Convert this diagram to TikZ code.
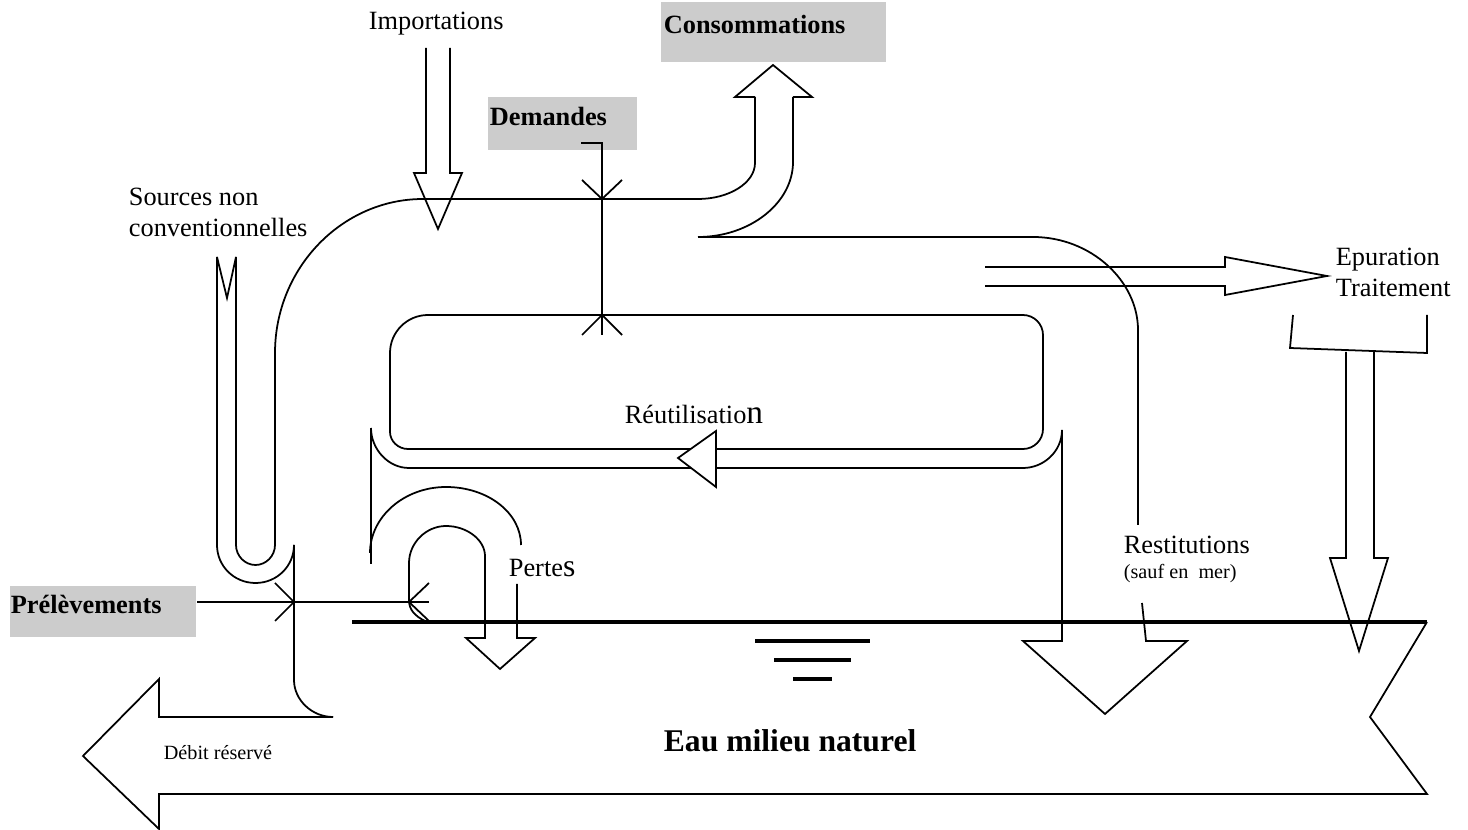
\documentclass[tikz,border=0pt]{standalone}
\usepackage{fontspec}
\setmainfont{Liberation Serif}
\definecolor{grau}{RGB}{204,204,204}

\begin{document}
\begin{tikzpicture}[x=0.02cm,y=-0.02cm,line width=1pt,line join=miter]
	\tikzstyle{txt}=[inner sep=0pt,anchor=west,font=\fontsize{15}{17.6}\selectfont];
	\tikzstyle{fett}=[txt,font=\fontsize{15}{17.6}\selectfont\bfseries];
	\tikzstyle{klein}=[txt,font=\fontsize{11.5}{13}\selectfont];
	\tikzstyle{kasten}=[fill=grau];
	\tikzstyle{niveau}=[line width=2.6pt];
%<--------------------------------------------------------------------------->%

	\useasboundingbox (0,0) rectangle (1468,830);
	%% Grey boxes
	\fill[kasten] (661,2) rectangle (886,62);
	\fill[kasten] (488,97) rectangle (637,150);
	\fill[kasten] (10,586) rectangle (196,637);
	%% River
	\draw (1427,622) -- (1370,717) -- (1427,794) -- (159,794) -- (159,829)
		-- (83,756) -- (159,679) -- (159,717) -- (333,717);
	\draw (294,545) -- (294,680) .. controls (294,700) and (312,717) .. (333,717);
	%% Sources non conventionnelles
	\draw (217,257) -- (227,298) -- (236,257);
	\draw (217,257) -- (217,545) .. controls (217,566) and (234,583) .. (255.5,583)
		.. controls (277,583) and (294,566) .. (294,545);
	\draw (236,257) -- (236,545) .. controls (236,556) and (245,565) .. (255.5,565)
		.. controls (266,565) and (275,556) .. (275,545);
	%% Main pipe
	\draw (275,545) -- (275,353) .. controls (275,268) and (342,199) .. (423,199) -- (698,199)
		.. controls (729,199) and (755,183) .. (755,163) -- (755,97);
	\draw (793,97) -- (793,162) .. controls (793,203) and (750,237) .. (698,237);
	\draw (698,237) -- (1033,237) .. controls (1091,237) and (1138,281) .. (1138,330) -- (1138,525);
	\draw (755,97) -- (735,97) -- (773,65) -- (812,97) -- (793,97);
	\draw (426,48) -- (426,173) -- (414,173) -- (438,229) -- (462,173) -- (450,173) -- (450,48);
	%% Reuse loop
	\draw (390,353) .. controls (390,332) and (407,315) .. (428,315) -- (1023,315)
		.. controls (1034,315) and (1043,324) .. (1043,335) -- (1043,429)
		.. controls (1043,440) and (1034,449) .. (1023,449) -- (408,449)
		.. controls (398,449) and (390,441) .. (390,432) -- cycle;
	\draw (371,428) .. controls (371,449) and (388,468) .. (409,468) -- (1023,468)
		.. controls (1044,468) and (1062,451) .. (1062,430) -- (1062,641) -- (1023,641)
		-- (1105,714) -- (1187,641) -- (1146,641) -- (1142,603);
	\draw (371,428) -- (371,564);
	\draw[fill=white] (716,431) -- (678,458) -- (716,487) -- cycle;
	%% Losses
	\draw (370,553) .. controls (370,517) and (404,487) .. (446,487)
		.. controls (488,487) and (521,513) .. (521,545);
	\draw (425,621) .. controls (415,616) and (409,610) .. (409,600) -- (409,563)
		.. controls (409,543) and (426,526) .. (446,526) .. controls (467,526) and (485,540) .. (485,556)
		-- (485,638) -- (466,638) -- (500,669) -- (535,638) -- (517,638) -- (517,584);
	%% Mark demand and withdrawal
	\draw (581,143) -- (602,143) -- (602,335);
	\draw (582,180) -- (602,199) -- (622,180);
	\draw (582,335) -- (602,315) -- (622,335);
	\draw (197,602) -- (429,602);
	\draw (275,583) -- (294,602) -- (275,621);
	\draw (429,583) -- (409,602) -- (429,621);
	%% Treatment
	\draw (985,267) -- (1225,267) -- (1225,257) -- (1327,276) -- (1225,295) -- (1225,286) -- (985,286);
	\draw (1293,315) -- (1290,348) -- (1427,353) -- (1427,315);
	\draw (1346,352) -- (1346,558) -- (1330,558) -- (1359,651) -- (1388,558) -- (1374,558) -- (1374,352);
	%% Water level
	\draw[niveau] (352,622) -- (1427,622);
	\draw[niveau] (755,641) -- (870,641);
	\draw[niveau] (774,660) -- (851,660);
	\draw[niveau] (793,679) -- (832,679);
	%% Labels
	\node[txt] (import) at (368,24) {Importations};
	\node[fett] (conso) at (663,24) {Consommations};
	\node[fett] (demand) at (489,116) {Demandes};
	\node[txt,align=left] (sources) at (128,212) {Sources non\\conventionnelles};
	\node[txt,align=left] (epur) at (1335,272) {Epuration\\Traitement};
	\node[txt] (reut) at (624,414) {Réutilisatio{\fontsize{19}{20}\selectfont n}};
	\node[txt] (pertes) at (508,568) {Perte{\fontsize{18}{20}\selectfont s}};
	\node[txt] (restit) at (1123,545) {Restitutions};
	\node[klein] (sauf) at (1123,574) {(sauf en\ \ mer)};
	\node[fett] (prelev) at (10,604) {Prélèvements};
	\node[klein] (debit) at (163,753) {Débit réservé};
	\node[txt,font=\fontsize{18}{20}\selectfont\bfseries] (eau) at (663,741) {Eau milieu naturel};
\end{tikzpicture}
\end{document}
